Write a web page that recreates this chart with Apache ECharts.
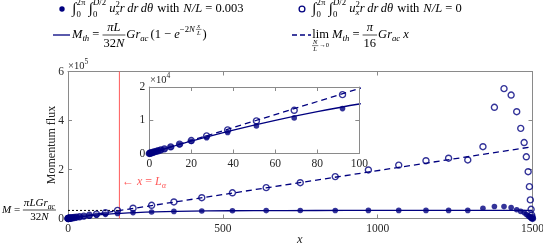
<!DOCTYPE html>
<html><head><meta charset="utf-8">
<script src="https://cdn.jsdelivr.net/npm/echarts/dist/echarts.min.js"></script>
<style>html,body{margin:0;padding:0;background:#fff}#c{width:543px;height:246px}</style>
</head><body><div id="c"></div>
<script>
// ---------------- data ----------------
const xs = [0, 0.3, 0.8, 1.5, 2.3, 3.2, 4.2, 5.5, 7.2, 10.2, 14.4, 20, 27.3, 37.3, 51, 69, 92, 121, 160, 210, 270, 342, 432, 531, 640, 750, 863, 970, 1068, 1156, 1229, 1291, 1340, 1377, 1408, 1431, 1449, 1462, 1473, 1480, 1486, 1490, 1493, 1495.5, 1497.5, 1499, 1500];
const fluxN003 = [0, 60, 155, 290, 445, 615, 805, 1050, 1370, 1920, 2680, 3650, 4750, 6300, 8300, 10700, 13500, 17000, 20500, 24000, 26800, 28900, 30500, 31600, 32300, 32700, 32900, 33000, 33000, 33000, 33000, 33100, 42000, 49000, 48500, 44500, 36000, 29000, 24000, 17000, 11500, 7500, 4800, 2500, 1000, 300, 0];
const fluxN0 = [0, 60, 155, 290, 450, 625, 820, 1070, 1400, 1990, 2810, 3900, 5300, 7100, 9800, 13000, 17700, 23700, 33000, 42000, 54000, 67500, 85000, 105000, 126000, 146000, 171000, 198000, 218000, 236000, 246000, 239000, 293000, 454000, 530000, 504000, 436000, 368000, 310000, 252000, 191000, 130000, 76000, 37500, 14000, 5000, 0];
const mthX = [0, 10, 20, 40, 60, 80, 100, 130, 170, 220, 280, 350, 450, 600, 800, 1000, 1500];
const mthY = [0, 1920, 3730, 7040, 9980, 12580, 14890, 17880, 21100, 24190, 26850, 28960, 30780, 32100, 32730, 32920, 33000];
const limX = [0, 1500];
const limY = [0, 293000];
const mLevel = 33000;
const xLalpha = 166;
const mainXTicks = [0, 500, 1000, 1500];
const mainYTicks = [0, 200000, 400000, 600000];
const mainYLabels = ['0', '2', '4', '6'];
const insetXTicks = [0, 20, 40, 60, 80, 100];
const insetYTicks = [0, 10000, 20000];
const insetYLabels = ['0', '1', '2'];

// ---------------- styling ----------------
const NAVY = '#00007f';
const RED = '#ff5a5a';
const AX = '#8a8a8a';
const LAB = '#262626';
const FF = '"Liberation Serif", "Times New Roman", serif';

const pairs = (a, b) => a.map((v, i) => [v, b[i]]);

function axis(kind, gi, pos, ticks, labels, extra) {
  const a = {
    type: 'value', gridIndex: gi, position: pos,
    min: ticks[0], max: ticks[ticks.length - 1], interval: ticks[1] - ticks[0],
    axisLine: { show: true, onZero: false, lineStyle: { color: AX, width: 1 } },
    axisTick: { show: true, inside: true, length: 4, lineStyle: { color: AX, width: 1 } },
    splitLine: { show: false },
    axisLabel: labels ? {
      show: true, fontFamily: FF, fontSize: 11.5, color: LAB, margin: 4,
      showMinLabel: true, showMaxLabel: true,
      formatter: v => { const i = ticks.indexOf(v); return i >= 0 ? labels[i] : ''; }
    } : { show: false }
  };
  return Object.assign(a, extra || {});
}

const series = [];
function addSeries(xi, yi, z) {
  series.push({ type: 'line', xAxisIndex: xi, yAxisIndex: yi, z: z, data: [[xLalpha, 0], [xLalpha, 600000]], showSymbol: false, symbol: 'none', lineStyle: { color: RED, width: 1 }, silent: true });
  series.push({ type: 'line', xAxisIndex: xi, yAxisIndex: yi, z: z, data: [[0, mLevel], [xLalpha, mLevel]], showSymbol: false, symbol: 'none', lineStyle: { color: '#000', width: 1, type: [2, 2] }, silent: true });
  series.push({ name: 'lim', type: 'line', xAxisIndex: xi, yAxisIndex: yi, z: z, data: pairs(limX, limY), showSymbol: false, symbol: 'none', lineStyle: { color: NAVY, width: 1.3, type: [6, 4] }, clip: true });
  series.push({ name: 'Mth', type: 'line', xAxisIndex: xi, yAxisIndex: yi, z: z, data: pairs(mthX, mthY), showSymbol: false, symbol: 'none', smooth: 0.3, lineStyle: { color: NAVY, width: 1.3 }, clip: true });
  series.push({ name: 'N/L=0', type: 'scatter', xAxisIndex: xi, yAxisIndex: yi, z: z + 1, data: pairs(xs, fluxN0), symbol: 'circle', symbolSize: 6, itemStyle: { color: 'rgba(255,255,255,0)', borderColor: NAVY, borderWidth: 1.4 }, clip: true });
  series.push({ name: 'N/L=0.003', type: 'scatter', xAxisIndex: xi, yAxisIndex: yi, z: z + 2, data: pairs(xs, fluxN003), symbol: 'circle', symbolSize: 5.6, itemStyle: { color: NAVY }, clip: true });
}
addSeries(0, 0, 2);
addSeries(2, 2, 6);

// ---------------- mini typesetter for math text ----------------
let S, s, ts, it, sm, smi, ti, tr;
function setS(v) { S = v; s = v * 0.7; ts = v * 0.52; it = { it: true, sz: v }; sm = { sz: s }; smi = { sz: s, it: true }; ti = { sz: ts, it: true }; tr = { sz: ts }; }
setS(12.5);
const mctx = document.createElement('canvas').getContext('2d');
const fnt = (sz, it) => (it ? 'italic ' : '') + sz + 'px ' + FF;
const mw = (t, sz, it) => { mctx.font = fnt(sz, it); return mctx.measureText(t).width; };
const G = [];
function T(t, o) {
  o = o || {}; const sz = o.sz || S, itl = !!o.it;
  return { w: mw(t, sz, itl), draw(x, y, col) {
    G.push({ type: 'text', x: x, y: y, z: 100, silent: true,
      style: { text: t, font: fnt(sz, itl), fontSize: sz, fontFamily: FF, fontStyle: itl ? 'italic' : 'normal', fill: col,
        align: 'left', verticalAlign: 'middle', textAlign: 'left', textVerticalAlign: 'middle' } });
  } };
}
const H = (...b) => ({ w: b.reduce((a, c) => a + c.w, 0), draw(x, y, col) { let cx = x; b.forEach(c => { c.draw(cx, y, col); cx += c.w; }); } });
const Sp = px => ({ w: px, draw() {} });
const Sh = (b, dy) => ({ w: b.w, draw(x, y, col) { b.draw(x, y + dy, col); } });
const Sub = b => Sh(b, 0.3 * S);
const Stk = (top, bot, dt, db) => ({ w: Math.max(top.w, bot.w), draw(x, y, col) { top.draw(x, y + dt, col); bot.draw(x, y + db, col); } });
const Frac = (num, den, dn, dd, lw) => {
  const w = Math.max(num.w, den.w) + 2;
  return { w: w + 1, draw(x, y, col) {
    num.draw(x + (w - num.w) / 2, y + dn, col);
    den.draw(x + (w - den.w) / 2, y + dd, col);
    G.push({ type: 'line', z: 100, silent: true, shape: { x1: x, y1: y, x2: x + w, y2: y }, style: { stroke: col, lineWidth: lw || 0.7 } });
  } };
};
const Under = (main, below, db) => {
  const w = Math.max(main.w, below.w);
  return { w: w, draw(x, y, col) { main.draw(x + (w - main.w) / 2, y, col); below.draw(x + (w - below.w) / 2, y + db, col); } };
};
const INT = () => T('∫', { sz: S * 1.2, it: true });

function integralPart() {
  return H(INT(), Sp(0.5), Stk(T('2π', sm), T('0', sm), -0.5 * S, 0.42 * S), Sp(3),
    INT(), Sp(0.5), Stk(H(T('D', smi), T('/2', sm)), T('0', sm), -0.5 * S, 0.42 * S), Sp(3),
    T('u', it), Stk(T('2', sm), T('x', smi), -0.38 * S, 0.3 * S), T('r', it), Sp(2.5), T('dr', it), Sp(2.5), T('dθ', it), Sp(4),
    T('with'), Sp(4), T('N/L', it), T(' = '));
}
const LCOL = '#000';
// legend row 1
H(integralPart(), T('0.003')).draw(72, 9, LCOL);
H(integralPart(), T('0')).draw(312, 9, LCOL);
// legend row 2 left
H(T('M', it), Sub(T('th', smi)), T(' = '),
  Frac(T('πL', it), H(T('32'), T('N', it)), -0.6 * S, 0.68 * S),
  T('Gr', it), Sub(T('ac', smi)), Sp(2), T('(1 − '), T('e', it),
  Sh(H(T('−2', sm), T('N', smi), Sp(1), Frac(T('x', ti), T('L', ti), -0.28 * S, 0.3 * S, 0.5)), -0.45 * S),
  T(')')).draw(72, 35, LCOL);
// legend row 2 right
H(Under(T('lim'), H(Frac(T('N', ti), T('L', ti), -0.26 * S, 0.28 * S, 0.5), T('→0', tr)), 0.85 * S), Sp(3),
  T('M', it), Sub(T('th', smi)), T(' = '), Frac(T('π', it), T('16'), -0.6 * S, 0.68 * S),
  T('Gr', it), Sub(T('ac', smi)), Sp(3), T('x', it)).draw(312, 35, LCOL);
// legend icons
G.push({ type: 'circle', z: 100, silent: true, shape: { cx: 62, cy: 9, r: 2.7 }, style: { fill: NAVY } });
G.push({ type: 'circle', z: 100, silent: true, shape: { cx: 302, cy: 9, r: 2.9 }, style: { fill: 'none', stroke: NAVY, lineWidth: 1.3 } });
G.push({ type: 'line', z: 100, silent: true, shape: { x1: 53, y1: 35, x2: 70, y2: 35 }, style: { stroke: NAVY, lineWidth: 1.3 } });
G.push({ type: 'line', z: 100, silent: true, shape: { x1: 292, y1: 35, x2: 311, y2: 35 }, style: { stroke: NAVY, lineWidth: 1.3, lineDash: [5, 3] } });
// M = pi L Gr / 32N label
setS(11);
H(T('M', it), T(' = '), Frac(H(T('πLGr', it), Sub(T('ac', smi))), H(T('32'), T('N', it)), -0.6 * S, 0.62 * S)).draw(2, 210, '#000');
// red L_alpha annotation
setS(12);
H(T('← '), T('x', it), T(' = '), T('L', it), Sub(T('α', smi))).draw(122, 182, RED);
// x axis title
setS(12.5);
T('x', it).draw(297, 239.5, LAB);
// exponent labels
setS(10.5);
H(T('×10'), Sh(T('5', { sz: 7.5 }), -4)).draw(68, 66, LAB);
H(T('×10'), Sh(T('4', { sz: 7.5 }), -4)).draw(150, 80, LAB);

const option = {
  animation: false,
  backgroundColor: '#fff',
  grid: [
    { left: 68, right: 10.5, top: 71.5, bottom: 27.5, show: false, containLabel: false, outerBoundsMode: 'none' },
    { left: 149.3, top: 87, width: 210, height: 66.5, show: true, backgroundColor: '#fff', borderWidth: 0, z: 4, containLabel: false, outerBoundsMode: 'none' }
  ],
  xAxis: [
    axis('x', 0, 'bottom', mainXTicks, mainXTicks.map(String)),
    axis('x', 0, 'top', mainXTicks, null),
    axis('x', 1, 'bottom', insetXTicks, insetXTicks.map(String), { z: 7 }),
    axis('x', 1, 'top', insetXTicks, null, { z: 7 })
  ],
  yAxis: [
    axis('y', 0, 'left', mainYTicks, mainYLabels, { name: 'Momentum flux', nameLocation: 'middle', nameGap: 10, nameMoveOverlap: false, nameTextStyle: { fontFamily: FF, fontSize: 12, color: LAB } }),
    axis('y', 0, 'right', mainYTicks, null),
    axis('y', 1, 'left', insetYTicks, insetYLabels, { z: 7 }),
    axis('y', 1, 'right', insetYTicks, null, { z: 7 })
  ],
  series: series,
  graphic: { elements: G }
};
const chart = echarts.init(document.getElementById('c'), null, { renderer: 'canvas' });
chart.setOption(option);
</script></body></html>
